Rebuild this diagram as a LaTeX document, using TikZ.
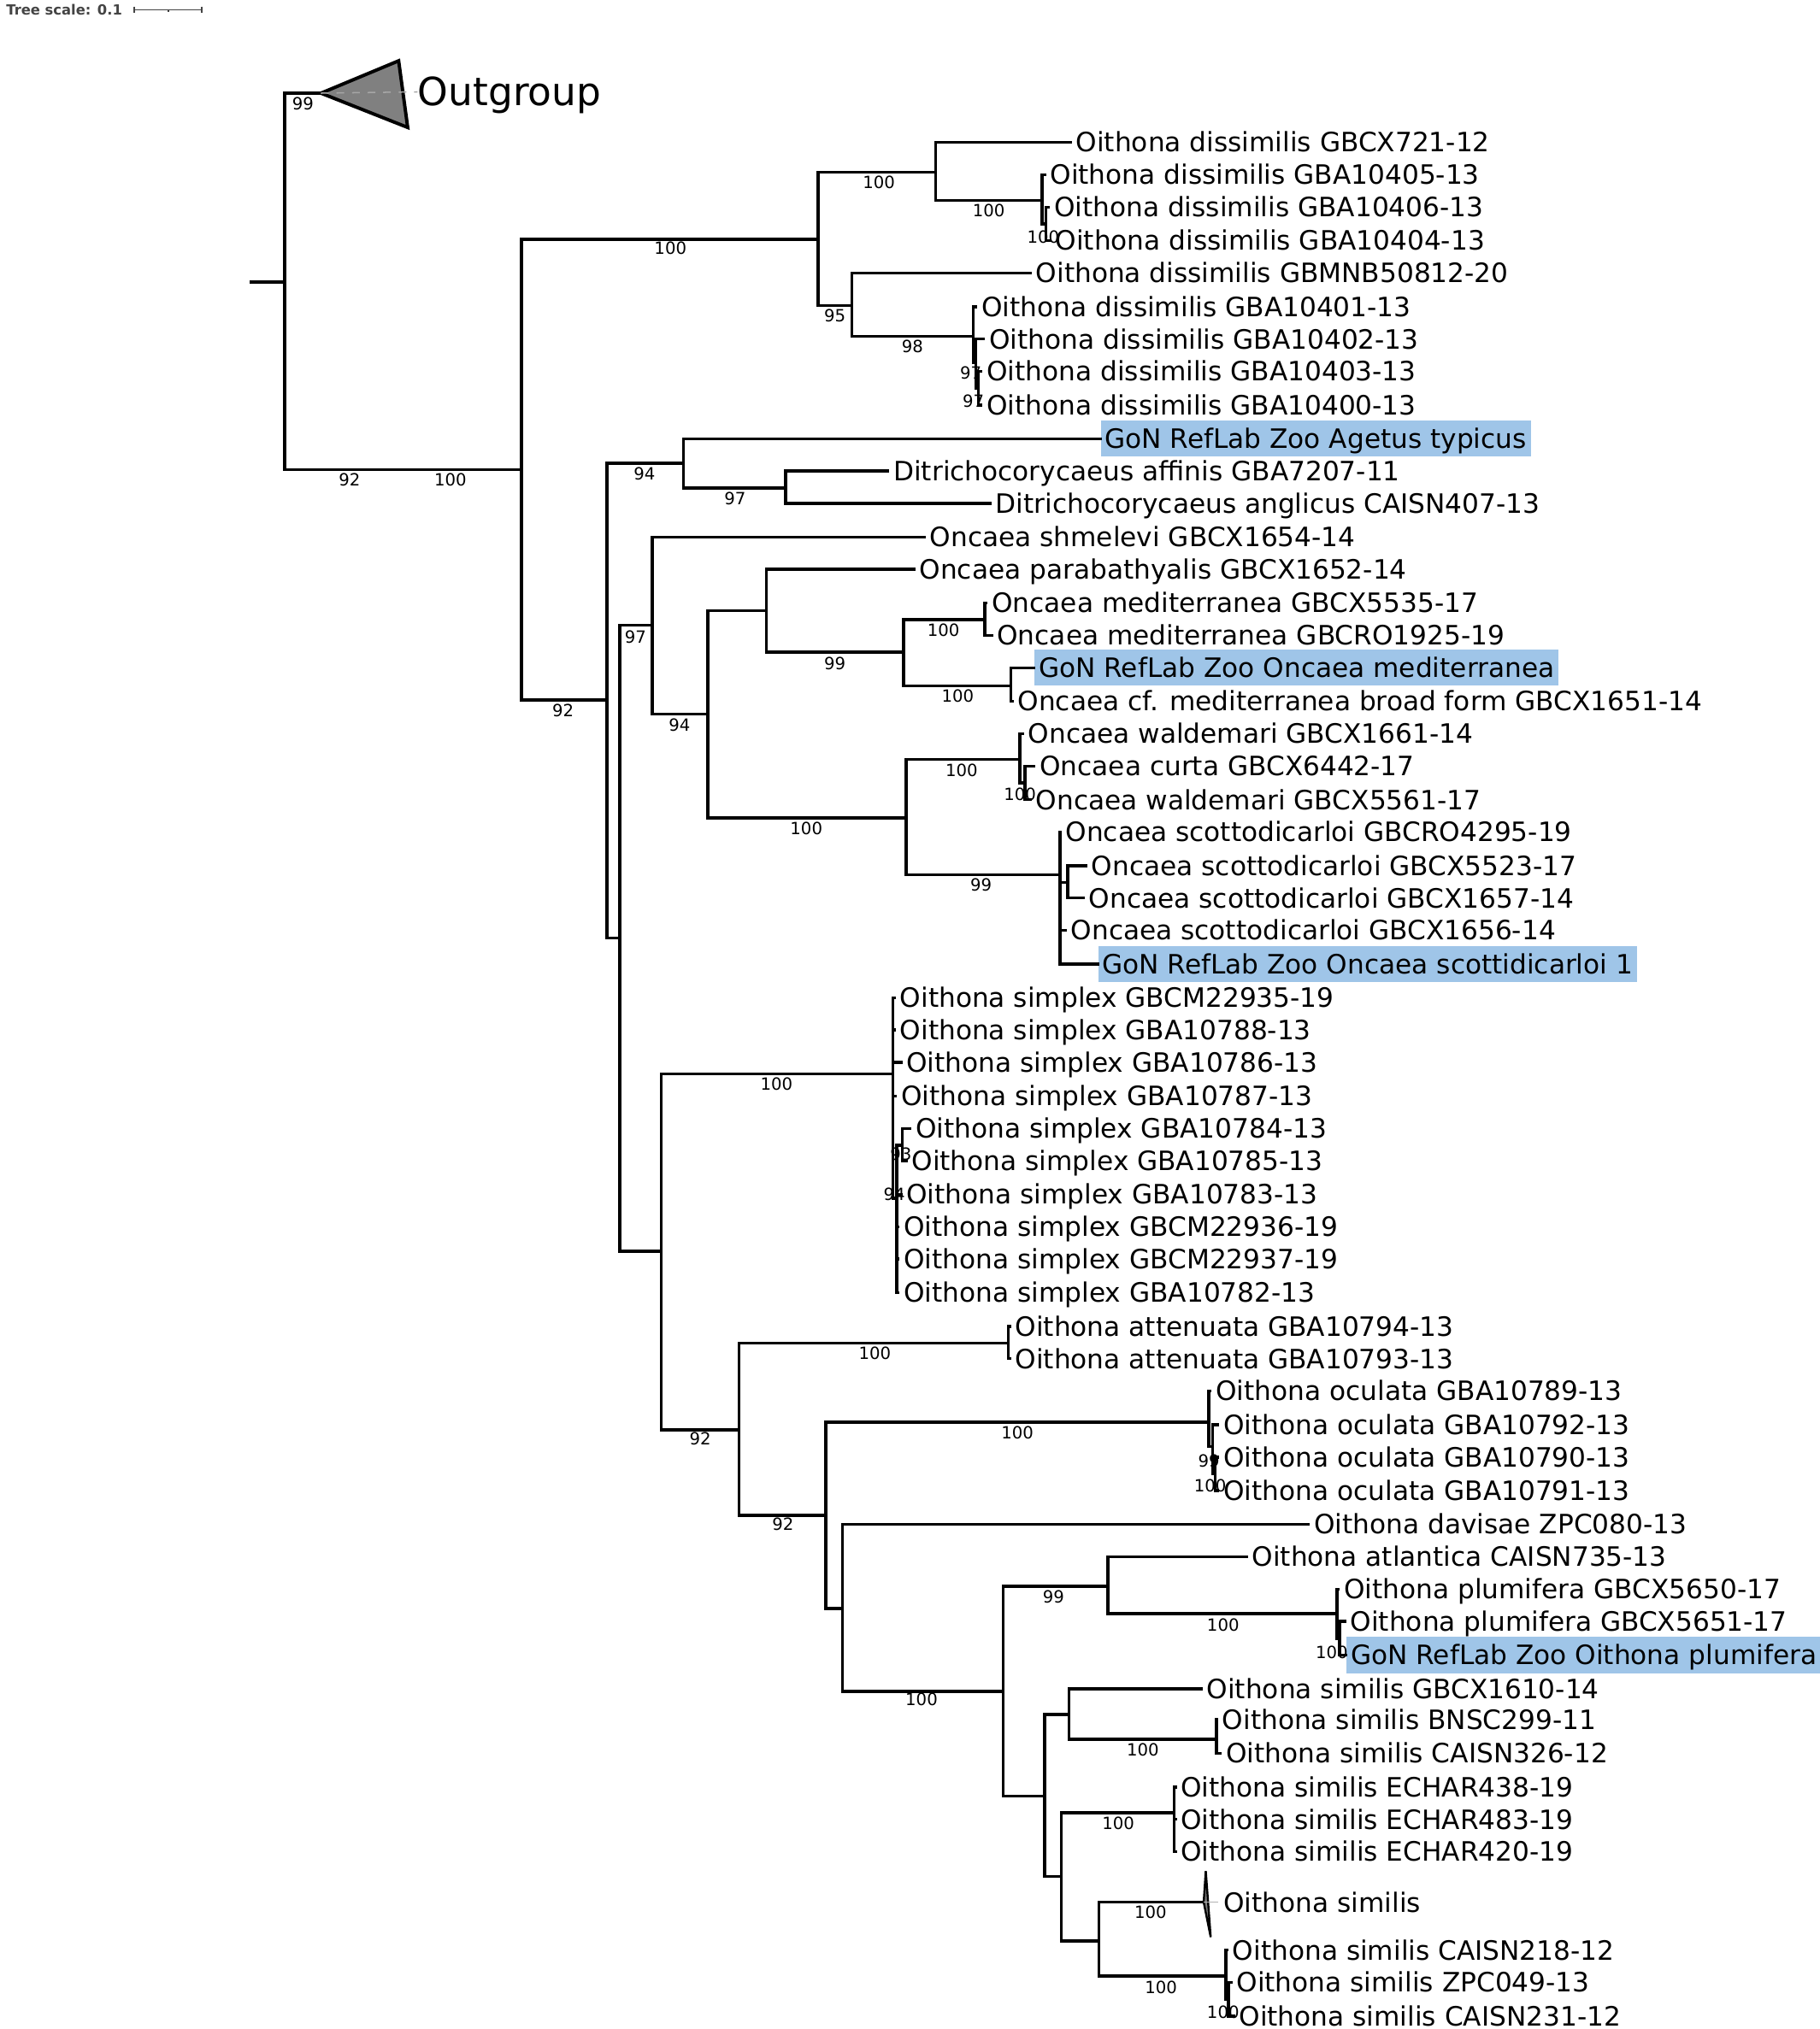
\documentclass[tikz,border=0pt]{standalone}
\usepackage{fontspec}
\setmainfont{DejaVu Sans}
\usepackage{tikz}
\definecolor{gonblue}{HTML}{9FC5E8}
\definecolor{collgray}{HTML}{808080}
\definecolor{scalegray}{HTML}{444444}
\tikzset{
  branch/.style={line width=1.15pt, line cap=rect},
  taxon/.style={anchor=west, inner xsep=2pt, inner ysep=0pt, text height=7.5pt, text depth=0pt, font=\fontsize{10.3}{12}\selectfont},
  gon/.style={taxon, fill=gonblue, inner xsep=1.6pt, inner ysep=3.2pt},
  boot/.style={inner sep=0pt, font=\fontsize{6.5}{7}\selectfont},
  collapsed/.style={draw=black, fill=collgray, line join=miter},
  scaletext/.style={anchor=west, inner sep=0pt, text=scalegray, font=\bfseries\fontsize{5.4}{6}\selectfont},
  scalebar/.style={draw=scalegray, line width=0.6pt},
}

\begin{document}
\begin{tikzpicture}[x=0.5pt, y=-0.5pt]
\useasboundingbox (0,0) rectangle (1406,1568);

% scale
\node[scaletext] (scale) at (4.5,7.6) {Tree scale: 0.1};
\coordinate (barL) at (103.5,7.6);
\coordinate (barM) at (130,7.6);
\coordinate (barR) at (156,7.6);
\draw[scalebar] (barL) -- (barR);
\draw[scalebar] ([yshift=1.3pt]barL) -- ([yshift=-1.3pt]barL);
\draw[scalebar] ([yshift=1.3pt]barR) -- ([yshift=-1.3pt]barR);
\draw[scalebar] (barM) -- ([yshift=-0.9pt]barM);

% internal nodes
\coordinate (stub) at (194,218);
\coordinate (root) at (220,218);
\coordinate (ogtip) at (248,72);
\coordinate (ogtop) at (308,47);
\coordinate (ogbot) at (315,98.5);
\coordinate (ingrp) at (403,363);
\coordinate (dis) at (632,185);
\coordinate (disa) at (723,133);
\coordinate (disb) at (805,155);
\coordinate (disc) at (808,173);
\coordinate (disd) at (658,236);
\coordinate (dise) at (752,260);
\coordinate (disf) at (754,280);
\coordinate (disg) at (756,300);
\coordinate (ncor) at (469,541);
\coordinate (cory) at (528,358);
\coordinate (ditr) at (607,377);
\coordinate (nrest) at (479,725);
\coordinate (onc) at (504,483);
\coordinate (onca) at (547,552);
\coordinate (oncb) at (592,472);
\coordinate (med) at (698,504);
\coordinate (meda) at (761,479);
\coordinate (medb) at (781,530);
\coordinate (oncc) at (700,632);
\coordinate (wal) at (788,587);
\coordinate (wala) at (792,605);
\coordinate (sco) at (819,676);
\coordinate (scoa) at (825,682);
\coordinate (oit) at (511,967);
\coordinate (sim) at (690,830);
\coordinate (sima) at (693,926);
\coordinate (simb) at (697,885);
\coordinate (oita) at (571,1105);
\coordinate (att) at (779,1038);
\coordinate (oitb) at (638,1171);
\coordinate (ocu) at (934,1099);
\coordinate (ocua) at (937,1118);
\coordinate (ocub) at (939,1139);
\coordinate (oitc) at (651,1243);
\coordinate (oitd) at (775,1307);
\coordinate (plu) at (856,1226);
\coordinate (plua) at (1033,1247);
\coordinate (plub) at (1035,1266);
\coordinate (sml) at (807,1388);
\coordinate (smla) at (826,1325);
\coordinate (smlb) at (940,1344);
\coordinate (smlc) at (820,1450);
\coordinate (smld) at (907,1401);
\coordinate (smle) at (849,1500);
\coordinate (smltip) at (930,1470);
\coordinate (smltop) at (931.6,1446);
\coordinate (smlbot) at (935.4,1497);
\coordinate (smlf) at (947,1527);
\coordinate (smlg) at (949,1545);

% taxa
\foreach \x/\y/\n/\t in {
  827/110/t1/Oithona dissimilis GBCX721-12,
  807/135/t2/Oithona dissimilis GBA10405-13,
  810/160/t3/Oithona dissimilis GBA10406-13,
  811/186/t4/Oithona dissimilis GBA10404-13,
  796/211/t5/Oithona dissimilis GBMNB50812-20,
  754/237/t6/Oithona dissimilis GBA10401-13,
  760/262/t7/Oithona dissimilis GBA10402-13,
  758/287/t8/Oithona dissimilis GBA10403-13,
  758/313/t9/Oithona dissimilis GBA10400-13,
  686/364/t11/Ditrichocorycaeus affinis GBA7207-11,
  765/389/t12/Ditrichocorycaeus anglicus CAISN407-13,
  714/415/t13/Oncaea shmelevi GBCX1654-14,
  706/440/t14/Oncaea parabathyalis GBCX1652-14,
  762/466/t15/Oncaea mediterranea GBCX5535-17,
  766/491/t16/Oncaea mediterranea GBCRO1925-19,
  782/542/t18/Oncaea cf. mediterranea broad form GBCX1651-14,
  790/567/t19/Oncaea waldemari GBCX1661-14,
  799/592/t20/Oncaea curta GBCX6442-17,
  796/618/t21/Oncaea waldemari GBCX5561-17,
  819/643/t22/Oncaea scottodicarloi GBCRO4295-19,
  839/669/t23/Oncaea scottodicarloi GBCX5523-17,
  837/694/t24/Oncaea scottodicarloi GBCX1657-14,
  823/719/t25/Oncaea scottodicarloi GBCX1656-14,
  691/771/t27/Oithona simplex GBCM22935-19,
  691/796/t28/Oithona simplex GBA10788-13,
  696/821/t29/Oithona simplex GBA10786-13,
  692/847/t30/Oithona simplex GBA10787-13,
  703/872/t31/Oithona simplex GBA10784-13,
  700/897/t32/Oithona simplex GBA10785-13,
  696/923/t33/Oithona simplex GBA10783-13,
  694/948/t34/Oithona simplex GBCM22936-19,
  694/973/t35/Oithona simplex GBCM22937-19,
  694/999/t36/Oithona simplex GBA10782-13,
  780/1025/t37/Oithona attenuata GBA10794-13,
  780/1050/t38/Oithona attenuata GBA10793-13,
  935/1075/t39/Oithona oculata GBA10789-13,
  941/1101/t40/Oithona oculata GBA10792-13,
  941/1126/t41/Oithona oculata GBA10790-13,
  941/1152/t42/Oithona oculata GBA10791-13,
  1011/1178/t43/Oithona davisae ZPC080-13,
  963/1203/t44/Oithona atlantica CAISN735-13,
  1034/1228/t45/Oithona plumifera GBCX5650-17,
  1039/1253/t46/Oithona plumifera GBCX5651-17,
  928/1305/t48/Oithona similis GBCX1610-14,
  940/1329/t49/Oithona similis BNSC299-11,
  943/1355/t50/Oithona similis CAISN326-12,
  908/1381/t51/Oithona similis ECHAR438-19,
  908/1406/t52/Oithona similis ECHAR483-19,
  908/1431/t53/Oithona similis ECHAR420-19,
  941/1470/t54/Oithona similis,
  948/1507/t55/Oithona similis CAISN218-12,
  951/1532/t56/Oithona similis ZPC049-13,
  953/1558/t57/Oithona similis CAISN231-12}
  \node[taxon] (\n) at (\x,\y) {\t};

% reference lab taxa
\node[gon] (t10) at (850,339) {GoN RefLab Zoo Agetus typicus};
\node[gon] (t17) at (799,516) {GoN RefLab Zoo Oncaea mediterranea};
\node[gon] (t26) at (848,745) {GoN RefLab Zoo Oncaea scottidicarloi 1};
\node[gon] (t47) at (1040,1279) {GoN RefLab Zoo Oithona plumifera};

% outgroup
\node[anchor=west, inner sep=0pt, text height=10.9pt, text depth=0pt, font=\fontsize{15}{18}\selectfont] (ogname) at (322.5,71) {Outgroup};

% branches
\draw[branch] (stub) -- (root);
\foreach \p/\c in {root/ingrp, root/ogtip, ingrp/dis, ingrp/ncor, dis/disa, dis/disd,
  disa/disb, disb/disc, disd/dise, dise/disf, disf/disg, ncor/cory, ncor/nrest,
  cory/ditr, nrest/onc, nrest/oit, onc/onca, onca/oncb, onca/oncc, oncb/med,
  med/meda, med/medb, oncc/wal, wal/wala, oncc/sco, sco/scoa, oit/sim, sim/sima,
  sima/simb, oit/oita, oita/att, oita/oitb, oitb/ocu, ocu/ocua, ocua/ocub,
  oitb/oitc, oitc/oitd, oitd/plu, plu/plua, plua/plub, oitd/sml, sml/smla,
  smla/smlb, sml/smlc, smlc/smld, smlc/smle, smle/smltip, smle/smlf, smlf/smlg}
  \draw[branch] (\p) |- (\c);
\foreach \p/\c in {disa/t1, disb/t2, disc/t3, disc/t4, disd/t5, dise/t6, disf/t7,
  disg/t8, disg/t9, cory/t10, ditr/t11, ditr/t12, onc/t13, oncb/t14, meda/t15,
  meda/t16, medb/t17, medb/t18, wal/t19, wala/t20, wala/t21, sco/t22, scoa/t23,
  scoa/t24, sco/t25, sco/t26, sim/t27, sim/t28, sim/t29, sim/t30, simb/t31,
  simb/t32, sima/t33, sima/t34, sima/t35, sima/t36, att/t37, att/t38, ocu/t39,
  ocua/t40, ocub/t41, ocub/t42, oitc/t43, plu/t44, plua/t45, plub/t46, plub/t47,
  smla/t48, smlb/t49, smlb/t50, smld/t51, smld/t52, smld/t53, smlf/t55,
  smlg/t56, smlg/t57}
  \draw[branch] (\p) |- (\c.west);

% collapsed clades
\draw[collapsed, line width=1.3pt] (ogtip) -- (ogtop) -- (ogbot) -- cycle;
\draw[gray!70, dashed, line width=0.5pt] (ogtip) -- (ogname.west);
\draw[collapsed, line width=0.8pt] (smltip) -- (smltop) -- (smlbot) -- cycle;
\draw[gray!60, line width=0.4pt] (smltip) -- (t54.west);

% bootstrap values
\foreach \x/\y/\v [count=\i] in {234/80/99, 270/371/92, 348/371/100, 518/192/100,
  679/141/100, 764/163/100, 806/183/100, 645/244/95, 705/268/98, 750/288/97,
  752/310/97, 435/549/92, 498/366/94, 568/385/97, 491/492/97, 525/560/94,
  645/513/99, 729/487/100, 740/538/100, 623/640/100, 743/595/100, 788/614/100,
  758/684/99, 600/838/100, 696/892/93, 691/923/94, 541/1112/92, 676/1046/100,
  605/1178/92, 786/1107/100, 934/1129/99, 935/1148/100, 712/1313/100,
  814/1234/99, 945/1256/100, 1029/1277/100, 883/1352/100, 864/1409/100,
  889/1478/100, 897/1536/100, 945/1555/100}
  \node[boot] (b\i) at (\x,\y) {\v};

\end{tikzpicture}
\end{document}
